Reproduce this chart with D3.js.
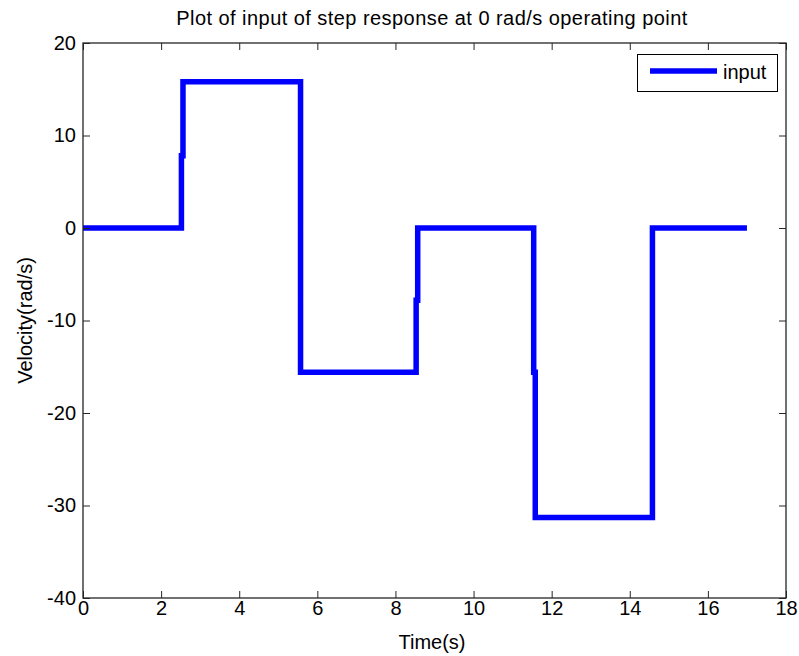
<!DOCTYPE html>
<html>
<head>
<meta charset="utf-8">
<script src="https://cdn.jsdelivr.net/npm/d3@7"></script>
<style>
  html, body { margin: 0; padding: 0; background: #fff; }
  svg { display: block; font-family: "Liberation Sans", Arial, sans-serif; }
</style>
</head>
<body>
<svg id="chart" width="799" height="656"></svg>
<script>
// Input signal of the step response test (time in s, velocity in rad/s)
const timeS = [0, 2.52, 2.52, 2.56, 2.56, 5.57, 5.57, 5.57, 8.53, 8.53, 8.57, 8.57, 11.54, 11.54, 11.58, 11.58, 14.58, 14.58, 17.0];
const velocity = [0, 0, 7.8, 7.8, 15.8, 15.8, 0, -15.6, -15.6, -7.8, -7.8, 0, 0, -15.6, -15.6, -31.3, -31.3, 0, 0];

const xTicks = [0, 2, 4, 6, 8, 10, 12, 14, 16, 18];
const yTicks = [-40, -30, -20, -10, 0, 10, 20];

const titleText = "Plot of input of step response at 0 rad/s operating point";
const xLabel = "Time(s)";
const yLabel = "Velocity(rad/s)";
const seriesName = "input";

const svg = d3.select("#chart");
const margin = { left: 83, right: 13, top: 43, bottom: 58 };
const W = 799, H = 656;
const x0 = margin.left, x1 = W - margin.right;
const y0 = margin.top, y1 = H - margin.bottom;

const x = d3.scaleLinear().domain([0, 18]).range([x0, x1]);
const y = d3.scaleLinear().domain([-40, 20]).range([y1, y0]);

const axisColor = "#262626";
const tickLen = 7;
const fontSize = 20;
// plain hyphen for negative numbers
const fmt = d => String(d);

// plot area clip
svg.append("defs").append("clipPath").attr("id", "plotClip")
  .append("rect").attr("x", x0).attr("y", y0).attr("width", x1 - x0).attr("height", y1 - y0);

// data line
const pts = timeS.map((t, i) => [t, velocity[i]]);
svg.append("path")
  .datum(pts)
  .attr("clip-path", "url(#plotClip)")
  .attr("fill", "none")
  .attr("stroke", "#0000ff")
  .attr("stroke-width", 5.5)
  .attr("stroke-linejoin", "miter")
  .attr("d", d3.line().x(d => x(d[0])).y(d => y(d[1])));

// axes (ticks pointing inward, box on all sides)
const bottomAxis = d3.axisBottom(x).tickValues(xTicks).tickSize(-tickLen).tickPadding(3).tickFormat(fmt);
const topAxis = d3.axisTop(x).tickValues(xTicks).tickSize(-tickLen).tickFormat("");
const leftAxis = d3.axisLeft(y).tickValues(yTicks).tickSize(-tickLen).tickPadding(7).tickFormat(fmt);
const rightAxis = d3.axisRight(y).tickValues(yTicks).tickSize(-tickLen).tickFormat("");

function styleAxis(g) {
  g.select(".domain").remove();
  g.selectAll(".tick line").attr("stroke", axisColor).attr("stroke-width", 1);
  g.selectAll(".tick text").attr("fill", "#000").attr("font-size", fontSize)
    .attr("font-family", "'Liberation Sans', Arial, sans-serif");
}

svg.append("g").attr("transform", `translate(0,${y1})`).call(bottomAxis).call(styleAxis);
svg.append("g").attr("transform", `translate(0,${y0})`).call(topAxis).call(styleAxis);
svg.append("g").attr("transform", `translate(${x0},0)`).call(leftAxis).call(styleAxis);
svg.append("g").attr("transform", `translate(${x1},0)`).call(rightAxis).call(styleAxis);

svg.append("rect")
  .attr("x", x0).attr("y", y0).attr("width", x1 - x0).attr("height", y1 - y0)
  .attr("fill", "none").attr("stroke", axisColor).attr("stroke-width", 1.3);

// title and axis labels
svg.append("text").attr("x", 432).attr("y", 25)
  .attr("text-anchor", "middle").attr("font-size", fontSize).attr("letter-spacing", 0.45)
  .attr("fill", "#000").text(titleText);
svg.append("text").attr("x", 432).attr("y", 649)
  .attr("text-anchor", "middle").attr("font-size", fontSize).attr("fill", "#000").text(xLabel);
svg.append("text").attr("transform", `translate(32,${(y0 + y1) / 2}) rotate(-90)`)
  .attr("text-anchor", "middle").attr("font-size", fontSize).attr("fill", "#000").text(yLabel);

// legend
const lg = svg.append("g");
lg.append("rect").attr("x", 637.5).attr("y", 54.5).attr("width", 140).attr("height", 37)
  .attr("fill", "#fff").attr("stroke", "#000").attr("stroke-width", 1);
lg.append("line").attr("x1", 650).attr("x2", 717).attr("y1", 71).attr("y2", 71)
  .attr("stroke", "#0000ff").attr("stroke-width", 5.5);
lg.append("text").attr("x", 723).attr("y", 79).attr("font-size", fontSize).attr("fill", "#000").text(seriesName);
</script>
</body>
</html>
